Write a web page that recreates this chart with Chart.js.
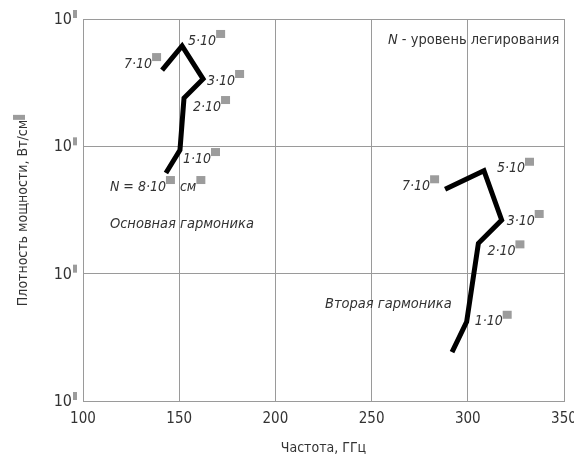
<!DOCTYPE html>
<html>
<head>
<meta charset="utf-8">
<script src="https://cdn.jsdelivr.net/npm/chart.js@4/dist/chart.umd.min.js"></script>
<style>
  html, body { margin: 0; padding: 0; background: #fff; }
  #wrap { width: 574px; height: 466px; }
</style>
</head>
<body>
<div id="wrap"><canvas id="chart" width="574" height="466"></canvas></div>
<script>
// основная гармоника
const freqMain = [143.1, 150.4, 152.5, 162.4, 151.5, 141.1];
const powerMain = [6170, 9350, 23950, 33800, 61400, 39700];
// вторая гармоника
const freqSecond = [291.8, 299.4, 305.5, 317.6, 308.4, 288.2];
const powerSecond = [242, 419, 1730, 2640, 6430, 4600];
// уровень легирования N (мантисса), одинаковый для обеих кривых
const dopingMantissa = ['8', '1', '2', '3', '5', '7'];

const xTicks = [100, 150, 200, 250, 300, 350];
const yDecades = [100, 1000, 10000, 100000];

const FONT = "'DejaVu Sans Condensed', 'Liberation Sans', sans-serif";
const TEXT = '#333';
const BOX = '#9c9c9c';
const GRID = '#9a9a9a';

// смещения подписей от точек, px
const mainLabelPos = [[-56, 14, 'left'], [3, 9, 'left'], [9, 9, 'left'], [4, 2, 'left'], [6, -5, 'left'], [0, -6, 'right']];
const secondLabelPos = [null, [8, 0, 'left'], [9, 8, 'left'], [5, 1, 'left'], [13, -2, 'left'], [-5, -3, 'right']];

// пометки (в координатах осей)
const notes = [
    { text: 'Основная гармоника', x: 114, y: 2455 },
    { text: 'Вторая гармоника', x: 225.8, y: 577 }
];

function toPoints(xs, ys) {
    return xs.map((x, i) => ({ x: x, y: ys[i] }));
}

// кусочки: строка - текст, null - серый квадрат показателя степени
function drawPieces(ctx, x, y, pieces, align, box) {
    let w = 0;
    pieces.forEach(p => w += p === null ? box.w + 1 : ctx.measureText(p).width);
    let cx = align === 'right' ? x - w : x;
    pieces.forEach(p => {
        if (p === null) {
            ctx.fillStyle = BOX;
            ctx.fillRect(cx, y - box.top, box.w, box.h);
            cx += box.w + 1;
        } else {
            ctx.fillStyle = TEXT;
            ctx.fillText(p, cx, y);
            cx += ctx.measureText(p).width;
        }
    });
}

const labelsPlugin = {
    id: 'labels',
    afterDraw(chart) {
        const ctx = chart.ctx;
        const xs = chart.scales.x, ys = chart.scales.y;
        ctx.save();
        ctx.textBaseline = 'middle';

        // подписи оси Y: 10 + показатель
        ctx.font = '16px ' + FONT;
        yDecades.forEach(v => {
            const py = ys.getPixelForValue(v);
            ctx.fillStyle = TEXT;
            ctx.textAlign = 'right';
            ctx.fillText('10', 72, py + 1);
            ctx.fillStyle = BOX;
            ctx.fillRect(73, py - 9, 4, 8);
        });
        ctx.textAlign = 'left';

        // заголовок оси Y
        ctx.save();
        ctx.translate(23, (chart.chartArea.top + chart.chartArea.bottom) / 2);
        ctx.rotate(-Math.PI / 2);
        ctx.font = '14px ' + FONT;
        const t = 'Плотность мощности, Вт/см';
        const tw = ctx.measureText(t).width + 6;
        drawPieces(ctx, -tw / 2, 0, [t, null], 'left', { w: 5, h: 12, top: 10 });
        ctx.restore();

        // подписи уровней легирования
        const supBox = { w: 9, h: 8, top: 11 };
        ctx.font = 'italic 14px ' + FONT;
        freqMain.forEach((f, i) => {
            const [dx, dy, al] = mainLabelPos[i];
            const px = xs.getPixelForValue(f) + dx;
            const py = ys.getPixelForValue(powerMain[i]) + dy;
            const pieces = i === 0
                ? ['N = ' + dopingMantissa[i] + '·10', null, ' см', null]
                : [dopingMantissa[i] + '·10', null];
            drawPieces(ctx, px, py, pieces, al, supBox);
        });
        freqSecond.forEach((f, i) => {
            if (!secondLabelPos[i]) return;
            const [dx, dy, al] = secondLabelPos[i];
            const px = xs.getPixelForValue(f) + dx;
            const py = ys.getPixelForValue(powerSecond[i]) + dy;
            drawPieces(ctx, px, py, [dopingMantissa[i] + '·10', null], al, supBox);
        });

        ctx.font = 'italic 14.5px ' + FONT;
        notes.forEach(n => {
            ctx.fillStyle = TEXT;
            ctx.fillText(n.text, xs.getPixelForValue(n.x), ys.getPixelForValue(n.y));
        });

        // легенда «N - уровень легирования»
        const lx = xs.getPixelForValue(258.5), ly = ys.getPixelForValue(68400);
        ctx.fillStyle = TEXT;
        ctx.font = 'italic 14.5px ' + FONT;
        ctx.fillText('N', lx, ly);
        const nw = ctx.measureText('N').width;
        ctx.font = '14.5px ' + FONT;
        ctx.fillText(' - уровень легирования', lx + nw, ly);
        ctx.restore();
    }
};

const ctx = document.getElementById('chart').getContext('2d');
new Chart(ctx, {
    type: 'scatter',
    data: {
        datasets: [
            {
                label: 'Основная гармоника',
                data: toPoints(freqMain, powerMain),
                showLine: true,
                borderColor: '#000',
                borderWidth: 5,
                pointRadius: 0,
                tension: 0,
                fill: false
            },
            {
                label: 'Вторая гармоника',
                data: toPoints(freqSecond, powerSecond),
                showLine: true,
                borderColor: '#000',
                borderWidth: 5,
                pointRadius: 0,
                tension: 0,
                fill: false
            }
        ]
    },
    options: {
        responsive: false,
        animation: false,
        layout: { padding: { top: 19, right: 10, left: 0, bottom: 0 } },
        plugins: { legend: { display: false }, tooltip: { enabled: false } },
        scales: {
            x: {
                type: 'linear',
                min: 100,
                max: 350,
                afterBuildTicks: s => { s.ticks = xTicks.map(v => ({ value: v })); },
                afterFit: s => { s.height = 65; s.paddingLeft = 0; s.paddingRight = 0; },
                grid: { color: GRID, lineWidth: 1, drawTicks: false },
                border: { color: GRID },
                ticks: { color: TEXT, padding: 9, maxRotation: 0, font: { family: FONT, size: 15 } },
                title: {
                    display: true,
                    text: 'Частота, ГГц',
                    color: TEXT,
                    padding: { top: 8, bottom: 9 },
                    font: { family: FONT, size: 14 }
                }
            },
            y: {
                type: 'logarithmic',
                min: 100,
                max: 100000,
                afterBuildTicks: s => { s.ticks = yDecades.map(v => ({ value: v })); },
                afterFit: s => { s.width = 83; },
                grid: { color: GRID, lineWidth: 1, drawTicks: false },
                border: { color: GRID },
                ticks: { display: false }
            }
        }
    },
    plugins: [labelsPlugin]
});
</script>
</body>
</html>
